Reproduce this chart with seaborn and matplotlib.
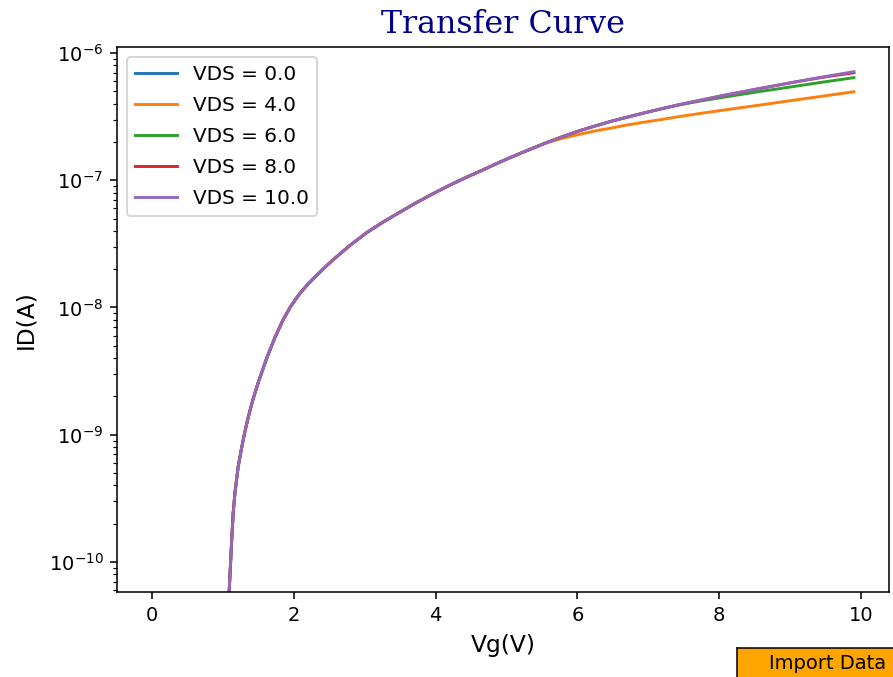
import numpy as np
import pandas as pd
import matplotlib
matplotlib.use('Agg')
import matplotlib.pyplot as plt
import seaborn as sns

# ---------------------------------------------
# Data (Vg in V, ID in A)
# ---------------------------------------------
vg_low = [0.0, 0.5, 1.08, 1.107, 1.125, 1.144, 1.17, 1.214, 1.26, 1.308,
          1.36, 1.425, 1.50, 1.613, 1.73, 1.847, 1.96, 2.08, 2.20, 2.339,
          2.45, 2.55, 2.78, 3.02, 3.25, 3.488, 3.72, 3.956, 4.19, 4.426,
          4.66, 4.895, 5.08, 5.31, 5.55]
vg_high = [5.78, 6.02, 6.25, 6.49, 6.72, 6.96, 7.20, 7.43, 7.75, 8.08,
           8.55, 9.02, 9.46, 9.90]
vg = vg_low + vg_high

# shared part of every non-zero curve (up to Vg = 5.55 V)
id_common = [0.0, 0.0, 4.85e-11, 9.82e-11, 1.57e-10, 2.43e-10, 3.55e-10,
             5.58e-10, 7.73e-10, 1.05e-9, 1.40e-9, 1.91e-9, 2.60e-9, 3.94e-9,
             5.76e-9, 7.98e-9, 1.03e-8, 1.28e-8, 1.53e-8, 1.83e-8, 2.10e-8,
             2.36e-8, 3.04e-8, 3.85e-8, 4.66e-8, 5.58e-8, 6.63e-8, 7.80e-8,
             9.09e-8, 1.05e-7, 1.20e-7, 1.38e-7, 1.53e-7, 1.73e-7, 1.96e-7]

id_vds0 = [0.0] * len(vg)
id_vds4 = id_common + [2.13e-7, 2.29e-7, 2.44e-7, 2.58e-7, 2.73e-7, 2.87e-7,
                       3.01e-7, 3.16e-7, 3.36e-7, 3.57e-7, 3.88e-7, 4.23e-7,
                       4.58e-7, 4.96e-7]
id_vds6 = id_common + [2.19e-7, 2.44e-7, 2.67e-7, 2.92e-7, 3.15e-7, 3.40e-7,
                       3.66e-7, 3.90e-7, 4.21e-7, 4.51e-7, 4.96e-7, 5.42e-7,
                       5.90e-7, 6.40e-7]
id_vds8 = id_common + [2.19e-7, 2.44e-7, 2.67e-7, 2.92e-7, 3.15e-7, 3.40e-7,
                       3.66e-7, 3.92e-7, 4.27e-7, 4.66e-7, 5.23e-7, 5.85e-7,
                       6.44e-7, 6.99e-7]
id_vds10 = id_common + [2.19e-7, 2.44e-7, 2.67e-7, 2.92e-7, 3.15e-7, 3.40e-7,
                        3.66e-7, 3.92e-7, 4.27e-7, 4.66e-7, 5.23e-7, 5.85e-7,
                        6.48e-7, 7.13e-7]

vds_values = [0.0, 4.0, 6.0, 8.0, 10.0]
series = [id_vds0, id_vds4, id_vds6, id_vds8, id_vds10]
colors = sns.color_palette('tab10', len(vds_values))

# ---------------------------------------------
# Plot
# ---------------------------------------------
fig = plt.figure(figsize=(893 / 140, 677 / 140), dpi=140)
ax = fig.add_axes([117 / 893, 85 / 677, 772 / 893, 545 / 677])

for vds, ids, col in zip(vds_values, series, colors):
    df = pd.DataFrame({'Vg': vg, 'ID': ids})
    sns.lineplot(data=df, x='Vg', y='ID', ax=ax, color=col,
                 label=f"VDS = {vds}", estimator=None, sort=False)

ax.set_yscale('log', nonpositive='mask')
ax.set_ylim(10 ** -10.236, 10 ** -5.953)
ax.set_xlim(-0.495, 10.395)
ax.set_xlabel("Vg(V)", fontsize=12, labelpad=5)
ax.set_ylabel("ID(A)", fontsize=12, labelpad=6)
ax.set_title("Transfer Curve", fontsize=16.3, family='DejaVu Serif',
             color='darkblue', pad=7)
ax.legend(loc='upper left', fontsize=10.3, handlelength=2.1, labelspacing=0.6)

# "Import Data" button in the bottom right corner
bax = fig.add_axes([737 / 893, -0.002, 182 / 893, 30 / 677])
bax.set_facecolor('orange')
bax.set_xticks([])
bax.set_yticks([])
bax.text(0.5, 0.5, 'Import Data', ha='center', va='center',
         fontsize=10, transform=bax.transAxes)

fig.savefig("out.png", dpi=140)
